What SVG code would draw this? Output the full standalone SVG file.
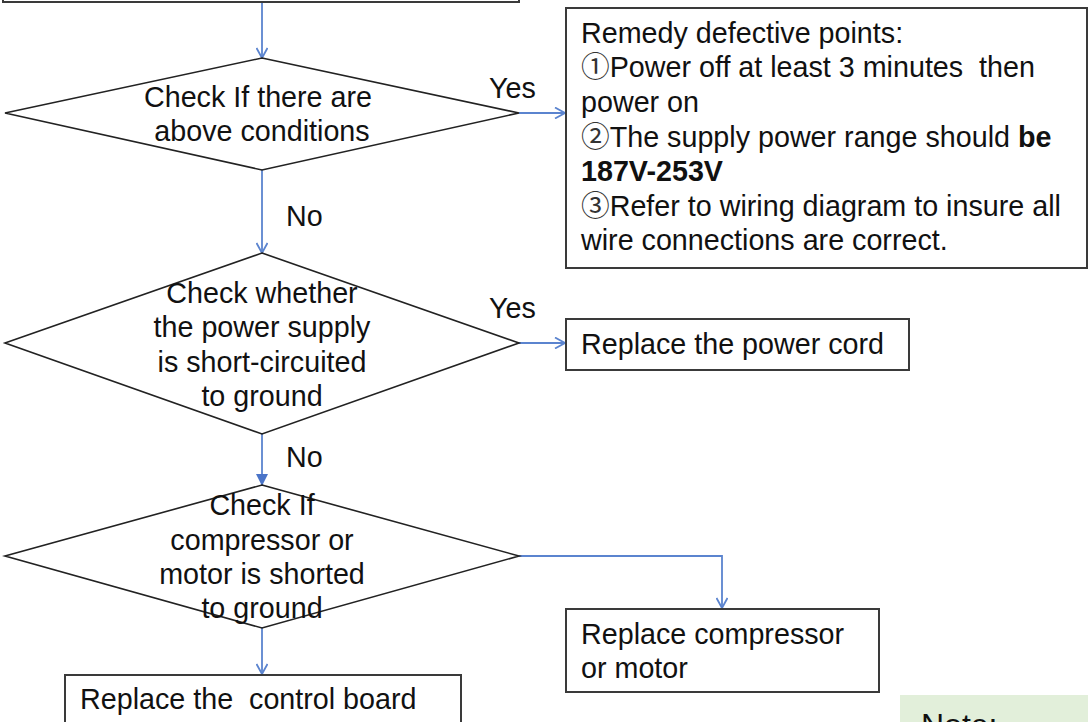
<svg xmlns="http://www.w3.org/2000/svg" width="1088" height="722" viewBox="0 0 1088 722">
  <style>
    .box { fill: #ffffff; stroke: #3a3a3a; stroke-width: 2; }
    .dia { fill: #ffffff; stroke: #222222; stroke-width: 1.6; }
    .t { font-family: "Liberation Sans", Arial, sans-serif; font-size: 28.7px; fill: #111111; white-space: pre; }
    .c { text-anchor: middle; }
    .b { font-weight: bold; }
    .cn { font-family: "Noto Sans CJK SC", "DejaVu Sans", sans-serif; fill: #333333; }
    .link { fill: none; stroke: #5b84cf; stroke-width: 1.8; }
    .open { marker-end: url(#arrowOpen); }
    .solid { marker-end: url(#arrowSolid); }
  </style>
  <defs>
    <marker id="arrowOpen" viewBox="0 0 12 12" refX="11" refY="6" markerWidth="12" markerHeight="12" markerUnits="userSpaceOnUse" orient="auto">
      <path d="M1,0.5 L11,6 L1,11.5" fill="none" stroke="#5b84cf" stroke-width="1.8"/>
    </marker>
    <marker id="arrowSolid" viewBox="0 0 12 12" refX="11" refY="6" markerWidth="12" markerHeight="12" markerUnits="userSpaceOnUse" orient="auto">
      <path d="M0,0 L12,6 L0,12 Z" fill="#4a74c8"/>
    </marker>
  </defs>

  <!-- connectors -->
  <g id="connectors">
    <line class="link open" x1="262" y1="2" x2="262" y2="58"/>
    <line class="link open" x1="519" y1="113" x2="565" y2="113"/>
    <line class="link open" x1="262" y1="170" x2="262" y2="253"/>
    <line class="link open" x1="519" y1="343" x2="565" y2="343"/>
    <line class="link solid" x1="262" y1="434" x2="262" y2="485"/>
    <polyline class="link open" points="519,556 722,556 722,608"/>
    <line class="link open" x1="262" y1="628" x2="262" y2="674"/>
    <text class="t" x="489" y="98">Yes</text>
    <text class="t" x="286" y="226">No</text>
    <text class="t" x="489" y="318">Yes</text>
    <text class="t" x="286" y="467">No</text>
  </g>

  <!-- previous step (clipped at the top edge) -->
  <g id="prev-step">
    <rect class="box" x="3" y="-30" width="516" height="32"/>
  </g>

  <g id="check-conditions">
    <polygon class="dia" points="262,58 519,113 262,170 5,113"/>
    <text class="t c" x="258" y="107">Check If there are</text>
    <text class="t c" x="262" y="141">above conditions</text>
  </g>

  <g id="remedy">
    <rect class="box" x="566" y="8" width="521" height="260"/>
    <text class="t" x="581" y="43">Remedy defective points:</text>
    <text class="t" x="581" y="77"><tspan class="cn">①</tspan>Power off at least 3 minutes  then</text>
    <text class="t" x="581" y="112">power on</text>
    <text class="t" x="581" y="147"><tspan class="cn">②</tspan>The supply power range should <tspan class="b">be</tspan></text>
    <text class="t b" x="581" y="181">187V-253V</text>
    <text class="t" x="581" y="216"><tspan class="cn">③</tspan>Refer to wiring diagram to insure all</text>
    <text class="t" x="581" y="250">wire connections are correct.</text>
  </g>

  <g id="check-short-supply">
    <polygon class="dia" points="262,253 519,343 262,434 5,343"/>
    <text class="t c" x="262" y="303">Check whether</text>
    <text class="t c" x="262" y="337">the power supply</text>
    <text class="t c" x="262" y="372">is short-circuited</text>
    <text class="t c" x="262" y="406">to ground</text>
  </g>

  <g id="replace-cord">
    <rect class="box" x="566" y="319" width="343" height="51"/>
    <text class="t" x="581" y="354">Replace the power cord</text>
  </g>

  <g id="check-short-motor">
    <polygon class="dia" points="262,485 519,556 262,628 5,556"/>
    <text class="t c" x="262" y="515">Check If</text>
    <text class="t c" x="262" y="550">compressor or</text>
    <text class="t c" x="262" y="584">motor is shorted</text>
    <text class="t c" x="262" y="618">to ground</text>
  </g>

  <g id="replace-compressor">
    <rect class="box" x="566" y="609" width="313" height="83"/>
    <text class="t" x="581" y="644">Replace compressor</text>
    <text class="t" x="581" y="678">or motor</text>
  </g>

  <g id="replace-board">
    <rect class="box" x="65" y="675" width="396" height="70"/>
    <text class="t" x="80" y="709">Replace the  control board</text>
  </g>

  <g id="note">
    <rect x="900" y="695" width="200" height="40" fill="#e2efda"/>
    <text x="921" y="736" font-family="Liberation Sans, Arial, sans-serif" font-size="32" fill="#111111">Note:</text>
  </g>
</svg>
